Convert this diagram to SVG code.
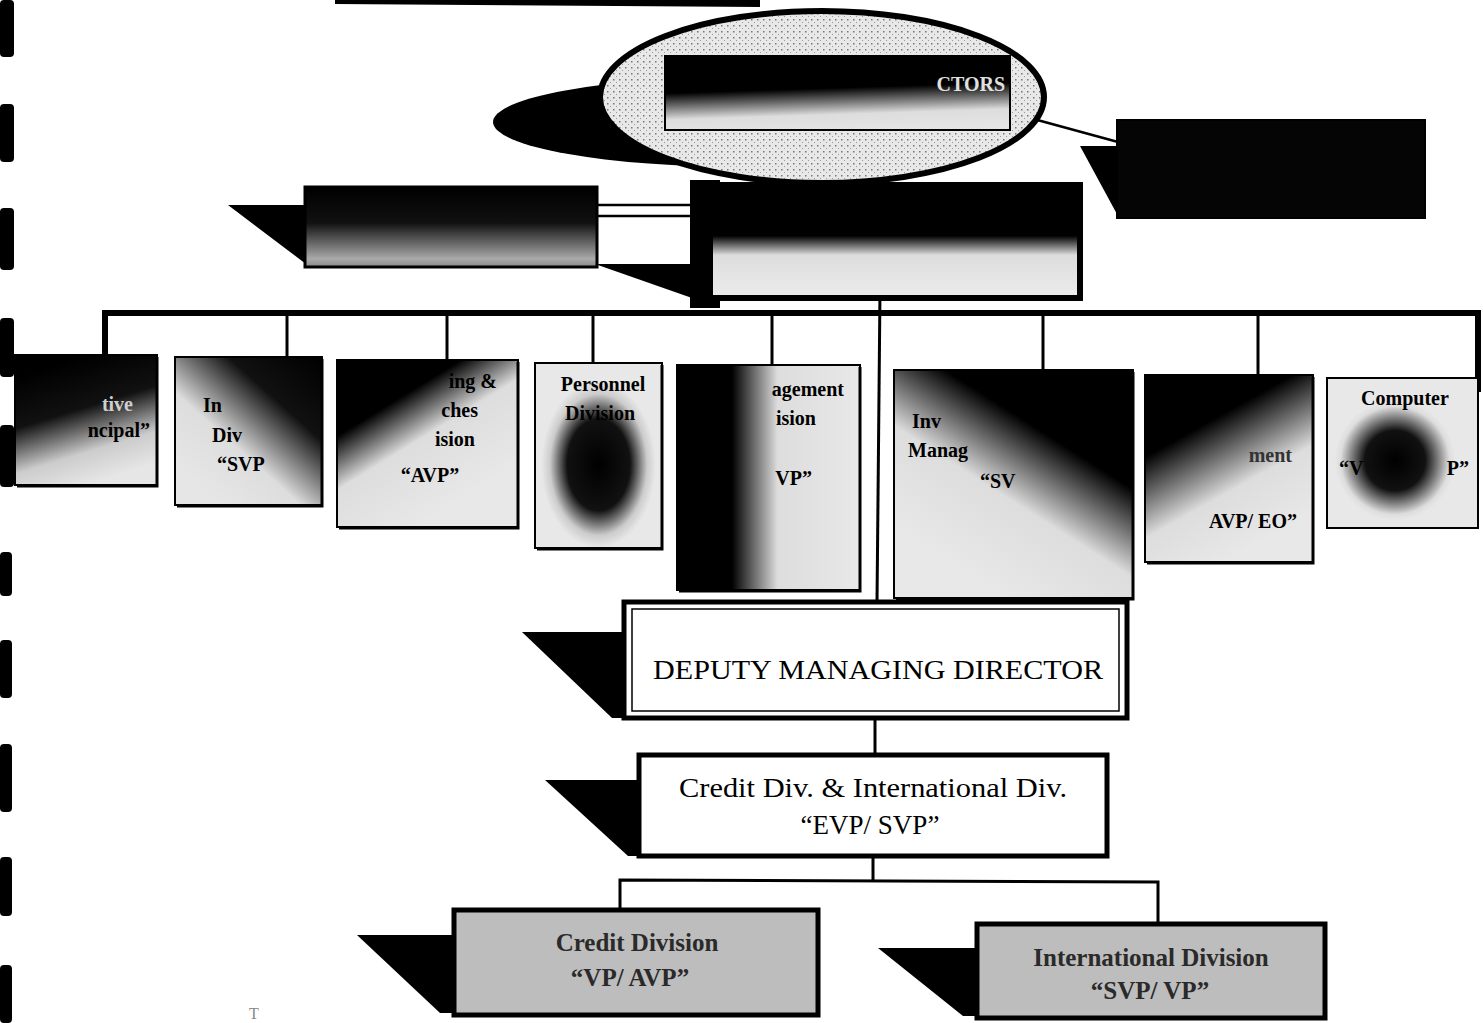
<svg xmlns="http://www.w3.org/2000/svg" width="1483" height="1023" viewBox="0 0 1483 1023">
<style>
.bx{stroke:#000;stroke-width:2}
.sh{fill:#000}
.ln{stroke:#000;fill:none}
.t{font-family:"Liberation Serif","Times New Roman",serif;font-weight:bold;font-size:20px;fill:#000}
.tn{font-family:"Liberation Serif","Times New Roman",serif;font-size:27px;fill:#000}
.tg{font-family:"Liberation Serif","Times New Roman",serif;font-weight:bold;font-size:25px;fill:#2a2a2a}
</style>
<defs>
<pattern id="dots" width="6" height="6" patternUnits="userSpaceOnUse">
<rect width="6" height="6" fill="#e8e8e8"/><rect x="1" y="1" width="1.5" height="1.5" fill="#777"/><rect x="4" y="4" width="1" height="1" fill="#999"/>
</pattern>
<linearGradient id="g1" x1="0.2" y1="0.1" x2="0.5" y2="1"><stop offset="0" stop-color="#000"/><stop offset="0.4" stop-color="#111"/><stop offset="0.75" stop-color="#ccc"/><stop offset="1" stop-color="#e6e6e6"/></linearGradient>
<linearGradient id="g2" x1="1" y1="0" x2="0.2" y2="0.9"><stop offset="0" stop-color="#000"/><stop offset="0.35" stop-color="#111"/><stop offset="0.7" stop-color="#ddd"/><stop offset="1" stop-color="#e6e6e6"/></linearGradient>
<linearGradient id="g3" x1="0" y1="0" x2="0.6" y2="0.9"><stop offset="0" stop-color="#000"/><stop offset="0.35" stop-color="#000"/><stop offset="0.6" stop-color="#ddd"/><stop offset="1" stop-color="#e8e8e8"/></linearGradient>
<radialGradient id="g4" cx="0.5" cy="0.55" r="0.45"><stop offset="0" stop-color="#000"/><stop offset="0.55" stop-color="#111"/><stop offset="0.85" stop-color="#ccc"/><stop offset="1" stop-color="#e8e8e8"/></radialGradient>
<linearGradient id="g5" x1="0" y1="0" x2="1" y2="0"><stop offset="0" stop-color="#000"/><stop offset="0.3" stop-color="#000"/><stop offset="0.55" stop-color="#ddd"/><stop offset="1" stop-color="#e8e8e8"/></linearGradient>
<linearGradient id="g6" x1="0.9" y1="0" x2="0.3" y2="0.9"><stop offset="0" stop-color="#000"/><stop offset="0.35" stop-color="#000"/><stop offset="0.65" stop-color="#ddd"/><stop offset="1" stop-color="#e8e8e8"/></linearGradient>
<linearGradient id="g7" x1="0" y1="0" x2="0.5" y2="1"><stop offset="0" stop-color="#000"/><stop offset="0.35" stop-color="#000"/><stop offset="0.7" stop-color="#ddd"/><stop offset="1" stop-color="#e8e8e8"/></linearGradient>
<radialGradient id="g8" cx="0.45" cy="0.55" r="0.4"><stop offset="0" stop-color="#000"/><stop offset="0.5" stop-color="#111"/><stop offset="0.9" stop-color="#ddd"/><stop offset="1" stop-color="#e8e8e8"/></radialGradient>
<linearGradient id="gtop" x1="0.3" y1="0" x2="0.45" y2="1"><stop offset="0" stop-color="#000"/><stop offset="0.45" stop-color="#000"/><stop offset="0.8" stop-color="#ddd"/><stop offset="1" stop-color="#e4e4e4"/></linearGradient>
<linearGradient id="gmd" x1="0" y1="0" x2="0" y2="1"><stop offset="0" stop-color="#000"/><stop offset="0.45" stop-color="#000"/><stop offset="0.62" stop-color="#ddd"/><stop offset="1" stop-color="#ececec"/></linearGradient>
<linearGradient id="gleft" x1="0" y1="0" x2="0" y2="1"><stop offset="0" stop-color="#000"/><stop offset="0.45" stop-color="#111"/><stop offset="0.9" stop-color="#aaa"/><stop offset="1" stop-color="#888"/></linearGradient>
</defs>

<g id="page-marks" fill="#000">
<rect x="0" y="0" width="14" height="57" rx="4"/>
<rect x="0" y="104" width="14" height="58" rx="4"/>
<rect x="0" y="208" width="14" height="62" rx="4"/>
<rect x="0" y="318" width="14" height="59" rx="4"/>
<rect x="0" y="425" width="14" height="62" rx="4"/>
<rect x="0" y="552" width="12" height="44" rx="4"/>
<rect x="0" y="640" width="12" height="58" rx="4"/>
<rect x="0" y="744" width="12" height="68" rx="4"/>
<rect x="0" y="857" width="12" height="59" rx="4"/>
<rect x="0" y="965" width="12" height="58" rx="4"/>
<path d="M335 0 L760 0 L760 7 L335 4 Z"/>
</g>

<g id="connectors">
<line class="ln" x1="1030" y1="118" x2="1118" y2="142" stroke-width="2.5"/>
<line class="ln" x1="597" y1="205" x2="712" y2="205" stroke-width="2.5"/>
<line class="ln" x1="597" y1="216" x2="712" y2="216" stroke-width="2.5"/>
<line class="ln" x1="880" y1="290" x2="877" y2="603" stroke-width="3"/>
<path class="ln" d="M105 355 L105 313 L1478 313 L1478 392" stroke-width="6"/>
<line class="ln" x1="287" y1="313" x2="287" y2="358" stroke-width="3"/>
<line class="ln" x1="447" y1="313" x2="447" y2="362" stroke-width="3"/>
<line class="ln" x1="593" y1="313" x2="593" y2="368" stroke-width="3"/>
<line class="ln" x1="772" y1="313" x2="772" y2="368" stroke-width="3"/>
<line class="ln" x1="1043" y1="313" x2="1043" y2="372" stroke-width="3"/>
<line class="ln" x1="1258" y1="313" x2="1258" y2="376" stroke-width="3"/>
<line class="ln" x1="875" y1="718" x2="875" y2="756" stroke-width="3"/>
<path class="ln" d="M620 910 L620 880 L1158 882 L1158 925" stroke-width="3"/>
<line class="ln" x1="873" y1="857" x2="873" y2="882" stroke-width="3"/>
</g>

<g id="board">
<ellipse cx="745" cy="122" rx="252" ry="45" fill="#000"/>
<ellipse cx="822" cy="97" rx="222" ry="86" fill="url(#dots)" stroke="#000" stroke-width="6"/>
<rect x="665" y="56" width="345" height="74" fill="url(#gtop)" stroke="#000" stroke-width="2"/>
<text class="t" x="1005" y="91" text-anchor="end" font-size="22" style="fill:#e0e0e0">CTORS</text>
</g>

<g id="right-box">
<polygon class="sh" points="1080,146 1118,146 1118,216"/>
<rect x="1117" y="120" width="308" height="98" fill="#050505" stroke="#000" stroke-width="2"/>
</g>

<g id="left-box">
<polygon class="sh" points="228,205 306,205 306,264"/>
<rect x="305" y="187" width="292" height="80" fill="url(#gleft)" stroke="#000" stroke-width="3"/>
</g>

<g id="managing-director">
<polygon class="sh" points="595,264 712,264 712,305"/>
<rect x="690" y="180" width="30" height="128" fill="#000"/>
<rect x="710" y="185" width="370" height="113" fill="url(#gmd)" stroke="#000" stroke-width="6"/>
</g>

<g id="div1">
<rect class="bx" x="15" y="355" width="142" height="130" fill="url(#g1)"/>
<path class="ln" d="M157 357 V486 H17" stroke-width="3"/>
<text class="t" x="133" y="411" text-anchor="end" style="fill:#cfcfcf">tive</text>
<text class="t" x="150" y="437" text-anchor="end">ncipal”</text>
</g>
<g id="div2">
<rect class="bx" x="175" y="357" width="147" height="148" fill="url(#g2)"/>
<path class="ln" d="M322 359 V506 H177" stroke-width="3"/>
<text class="t" x="203" y="412">In</text>
<text class="t" x="212" y="442">Div</text>
<text class="t" x="217" y="471">“SVP</text>
</g>
<g id="div3">
<rect class="bx" x="337" y="360" width="181" height="167" fill="url(#g3)"/>
<path class="ln" d="M518 362 V528 H339" stroke-width="3"/>
<text class="t" x="497" y="388" text-anchor="end">ing &amp;</text>
<text class="t" x="478" y="417" text-anchor="end">ches</text>
<text class="t" x="475" y="446" text-anchor="end">ision</text>
<text class="t" x="430" y="482" text-anchor="middle">“AVP”</text>
</g>
<g id="div4">
<rect class="bx" x="535" y="363" width="127" height="185" fill="url(#g4)"/>
<path class="ln" d="M662 365 V549 H537" stroke-width="3"/>
<text class="t" x="603" y="391" text-anchor="middle">Personnel</text>
<text class="t" x="600" y="420" text-anchor="middle">Division</text>
</g>
<g id="div5">
<rect class="bx" x="677" y="365" width="183" height="225" fill="url(#g5)"/>
<path class="ln" d="M860 367 V591 H679" stroke-width="3"/>
<text class="t" x="844" y="396" text-anchor="end">agement</text>
<text class="t" x="816" y="425" text-anchor="end">ision</text>
<text class="t" x="812" y="485" text-anchor="end">VP”</text>
</g>
<g id="div6">
<rect class="bx" x="894" y="370" width="239" height="228" fill="url(#g6)"/>
<path class="ln" d="M1133 372 V599 H896" stroke-width="3"/>
<text class="t" x="912" y="428">Inv</text>
<text class="t" x="908" y="457">Manag</text>
<text class="t" x="980" y="488">“SV</text>
</g>
<g id="div7">
<rect class="bx" x="1145" y="375" width="168" height="187" fill="url(#g7)"/>
<path class="ln" d="M1313 377 V563 H1147" stroke-width="3"/>
<text class="t" x="1292" y="462" text-anchor="end" style="fill:#333">ment</text>
<text class="t" x="1297" y="528" text-anchor="end">AVP/ EO”</text>
</g>
<g id="div8">
<rect class="bx" x="1327" y="378" width="151" height="150" fill="url(#g8)"/>
<text class="t" x="1405" y="405" text-anchor="middle">Computer</text>
<text class="t" x="1339" y="475">“V</text>
<text class="t" x="1469" y="475" text-anchor="end">P”</text>
</g>

<g id="deputy-md">
<polygon class="sh" points="522,632 624,632 624,718 612,718"/>
<rect x="624" y="602" width="503" height="116" fill="#fff" stroke="#000" stroke-width="5"/>
<rect x="632" y="609" width="487" height="102" fill="none" stroke="#000" stroke-width="1.5"/>
<text class="tn" x="878" y="679" text-anchor="middle" font-size="29" textLength="450" lengthAdjust="spacingAndGlyphs">DEPUTY MANAGING DIRECTOR</text>
</g>

<g id="credit-intl">
<polygon class="sh" points="545,780 639,780 639,856 628,856"/>
<rect x="639" y="755" width="468" height="101" fill="#fff" stroke="#000" stroke-width="5"/>
<text class="tn" x="873" y="797" text-anchor="middle" font-size="27" textLength="388" lengthAdjust="spacingAndGlyphs">Credit Div. &amp; International Div.</text>
<text class="tn" x="870" y="834" text-anchor="middle" font-size="26">“EVP/ SVP”</text>
</g>

<g id="credit-division">
<polygon class="sh" points="357,935 454,935 454,1013 440,1013"/>
<rect x="454" y="910" width="364" height="105" fill="#bdbdbd" stroke="#000" stroke-width="5"/>
<text class="tg" x="637" y="951" text-anchor="middle">Credit Division</text>
<text class="tg" x="630" y="986" text-anchor="middle">“VP/ AVP”</text>
</g>

<g id="international-division">
<polygon class="sh" points="878,948 977,948 977,1016 963,1016"/>
<rect x="977" y="924" width="348" height="94" fill="#bdbdbd" stroke="#000" stroke-width="5"/>
<text class="tg" x="1151" y="966" text-anchor="middle">International Division</text>
<text class="tg" x="1150" y="999" text-anchor="middle">“SVP/ VP”</text>
</g>

<text x="249" y="1019" font-family="Liberation Serif, serif" font-size="16" fill="#888">T</text>
</svg>
